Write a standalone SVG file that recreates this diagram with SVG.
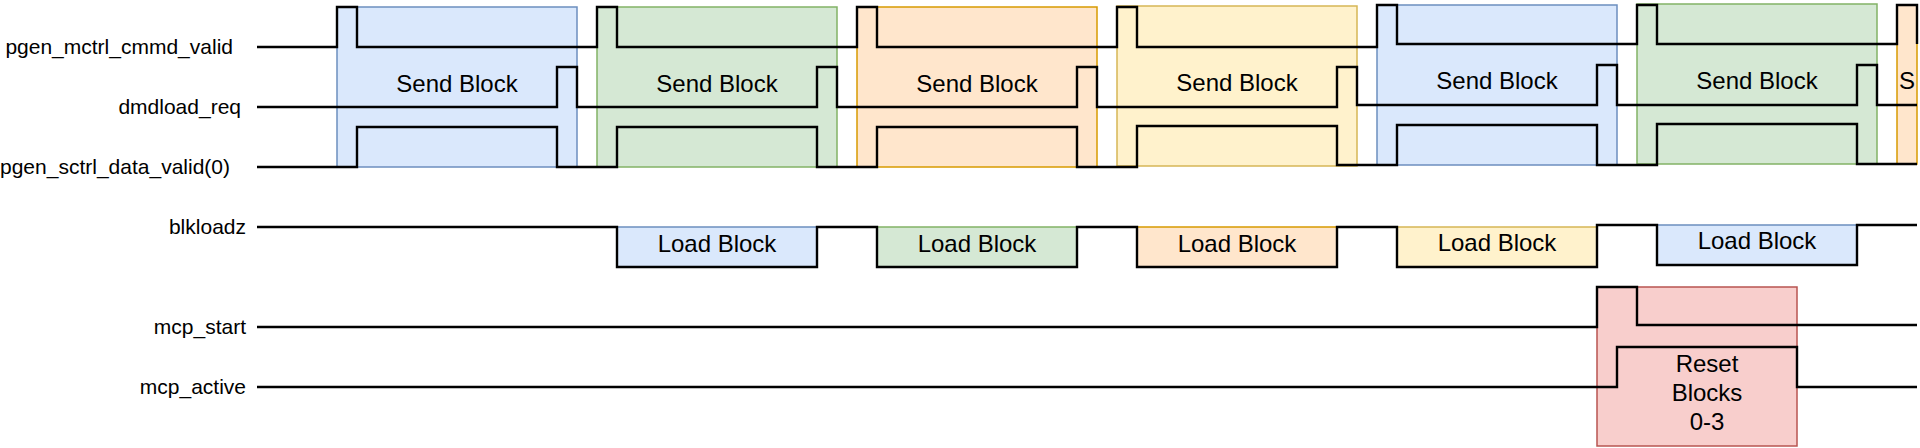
<svg xmlns="http://www.w3.org/2000/svg" width="1920" height="448" viewBox="0 0 1920 448">
<style>
.lbl{font-family:"Liberation Sans",Arial,sans-serif;font-size:21px;fill:#000;text-anchor:end}
.blk{font-family:"Liberation Sans",Arial,sans-serif;font-size:24px;fill:#000;text-anchor:middle}
.box{stroke-width:1.5}
.blue{fill:#dae8fc;stroke:#6c8ebf}
.green{fill:#d5e8d4;stroke:#82b366}
.orange{fill:#ffe6cc;stroke:#d79b00}
.yellow{fill:#fff2cc;stroke:#d6b656}
.red{fill:#f8cecc;stroke:#b85450}
.sig{fill:none;stroke:#000;stroke-width:2.4;stroke-linejoin:miter;stroke-linecap:butt}
</style>
<rect width="1920" height="448" fill="#fff"/>
<g id="labels">
<text id="lbl-cmmd" class="lbl" x="233" y="54">pgen_mctrl_cmmd_valid</text>
<text id="lbl-dmdload" class="lbl" x="241" y="114">dmdload_req</text>
<text id="lbl-sctrl" class="lbl" x="230" y="174">pgen_sctrl_data_valid(0)</text>
<text id="lbl-blkloadz" class="lbl" x="246" y="234">blkloadz</text>
<text id="lbl-mcpstart" class="lbl" x="246" y="334">mcp_start</text>
<text id="lbl-mcpactive" class="lbl" x="246" y="394">mcp_active</text>
</g>
<g id="send1"><rect class="box blue" x="337" y="7" width="240" height="160"/><text class="blk" x="457" y="92">Send Block</text></g>
<g id="send2"><rect class="box green" x="597" y="7" width="240" height="160"/><text class="blk" x="717" y="92">Send Block</text></g>
<g id="send3"><rect class="box orange" x="857" y="7" width="240" height="160"/><text class="blk" x="977" y="92">Send Block</text></g>
<g id="send4"><rect class="box yellow" x="1117" y="6" width="240" height="160"/><text class="blk" x="1237" y="91">Send Block</text></g>
<g id="send5"><rect class="box blue" x="1377" y="5" width="240" height="160"/><text class="blk" x="1497" y="89">Send Block</text></g>
<g id="send6"><rect class="box green" x="1637" y="4" width="240" height="160"/><text class="blk" x="1757" y="89">Send Block</text></g>
<g id="send7"><rect class="box orange" x="1897" y="5" width="20" height="159"/><text class="blk" x="1907" y="89">S</text></g>
<g id="load1"><rect class="box blue" x="617" y="227" width="200" height="40"/><text class="blk" x="717" y="252">Load Block</text></g>
<g id="load2"><rect class="box green" x="877" y="227" width="200" height="40"/><text class="blk" x="977" y="252">Load Block</text></g>
<g id="load3"><rect class="box orange" x="1137" y="227" width="200" height="40"/><text class="blk" x="1237" y="252">Load Block</text></g>
<g id="load4"><rect class="box yellow" x="1397" y="227" width="200" height="40"/><text class="blk" x="1497" y="251">Load Block</text></g>
<g id="load5"><rect class="box blue" x="1657" y="225" width="200" height="40"/><text class="blk" x="1757" y="249">Load Block</text></g>
<g id="reset"><rect class="box red" x="1597" y="287" width="200" height="159"/>
<text class="blk" x="1707" y="372">Reset</text><text class="blk" x="1707" y="401">Blocks</text><text class="blk" x="1707" y="430">0-3</text></g>
<g id="connectors">
<path id="w-cmmd" class="sig" d="M257,47 H337 V7 H357 V47 H597 V7 H617 V47 H857 V7 H877 V47 H1117 V7 H1137 V47 H1377 V5 H1397 V44 H1637 V5 H1657 V44 H1897 V5 H1917 V44"/>
<path id="w-dmdload" class="sig" d="M257,107 H557 V67 H577 V107 H817 V67 H837 V107 H1077 V67 H1097 V107 H1337 V67 H1357 V105 H1597 V65 H1617 V105 H1857 V65 H1877 V105 H1917"/>
<path id="w-sctrl" class="sig" d="M257,167 H357 V127 H557 V167 H617 V127 H817 V167 H877 V127 H1077 V167 H1137 V126 H1337 V165 H1397 V125 H1597 V165 H1657 V124 H1857 V164 H1917"/>
<path id="w-blkloadz" class="sig" d="M257,227 H617 V267 H817 V227 H877 V267 H1077 V227 H1137 V267 H1337 V227 H1397 V267 H1597 V225 H1657 V265 H1857 V225 H1917"/>
<path id="w-mcpstart" class="sig" d="M257,327 H1597 V287 H1637 V325 H1917"/>
<path id="w-mcpactive" class="sig" d="M257,387 H1617 V347 H1797 V387 H1917"/>
</g>
</svg>
